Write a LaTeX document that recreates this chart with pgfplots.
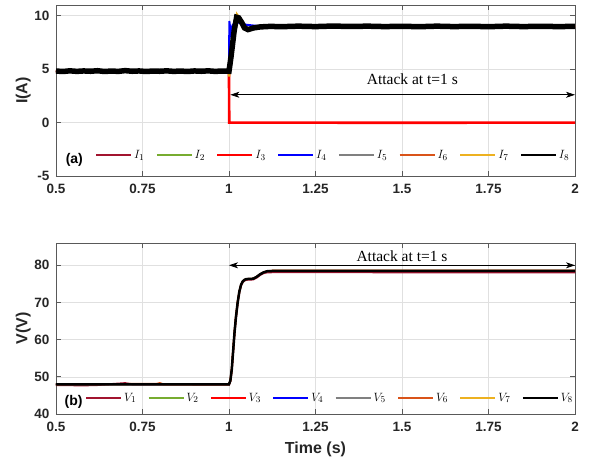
\documentclass[border=0pt]{standalone}
\usepackage{fontspec}
\setmainfont{Liberation Sans}
\newfontfamily\seriffont{Liberation Serif}
\usepackage{pgfplots}
\pgfplotsset{compat=1.18}
\usetikzlibrary{arrows.meta}
\definecolor{c1}{rgb}{0.635,0.078,0.184}
\definecolor{c2}{rgb}{0.466,0.674,0.188}
\definecolor{c3}{rgb}{1,0,0}
\definecolor{c4}{rgb}{0,0,1}
\definecolor{c5}{rgb}{0.5,0.5,0.5}
\definecolor{c6}{rgb}{0.85,0.325,0.098}
\definecolor{c7}{rgb}{0.929,0.694,0.125}
\pgfplotsset{mystyle/.style={
  width=519pt, height=171pt, scale only axis,
  xmin=0.5, xmax=2,
  xtick={0.5,0.75,1,1.25,1.5,1.75,2},
  xticklabels={0.5,0.75,1,1.25,1.5,1.75,2},
  tick align=inside, tick pos=both, major tick length=5pt,
  grid=major, grid style={color=black!12, line width=0.6pt},
  axis line style={color=black!65, line width=0.8pt},
  every tick/.style={black!65, line width=0.7pt},
  tick label style={font=\fontsize{13.5}{13.5}\selectfont\bfseries, text=black!85},
  xticklabel style={yshift=-5pt},
  yticklabel style={xshift=-3pt},
  label style={font=\fontsize{16}{16}\selectfont\bfseries, text=black!85},
  ylabel style={at={(rel axis cs:-0.063,0.5)}, anchor=center},
  legend columns=8,
  legend style={draw=none, fill=none, font=\fontsize{12.5}{12.5}\selectfont, anchor=west, inner sep=0pt},
  legend image code/.code={\draw[#1, line width=1.9pt] (0pt,0pt) -- (35pt,0pt);},
  /tikz/every even column/.append style={column sep=9.5pt},
}}
\begin{document}
\begin{tikzpicture}
\path[use as bounding box] (-56pt,5pt) rectangle (535pt,-459pt);
% ---------------- (a) currents ----------------
\begin{axis}[mystyle, at={(0pt,0pt)}, anchor=north west,
  ymin=-5, ymax=11, ytick={-5,0,5,10}, yticklabels={-5,0,5,10},
  ylabel={I(A)},
  legend style={at={(rel axis cs:0.075,0.123)}}]
\addplot[c1, line width=1.5pt] coordinates {(0.5,4.8)(1.0,4.8)(1.006,6.2)(1.015,8.6)(1.023,10.0)(1.033,9.6)(1.045,8.85)(1.055,8.7)(1.07,8.85)(1.09,8.95)(1.12,9.0)(2,8.98)};
\addlegendentry{$I_1$}
\addplot[c2, line width=1.5pt] coordinates {(0.5,4.8)(1.0,4.8)(1.006,6.2)(1.015,8.6)(1.023,10.0)(1.033,9.6)(1.045,8.85)(1.055,8.7)(1.07,8.85)(1.09,8.95)(1.12,9.0)(2,9.0)};
\addlegendentry{$I_2$}
\addplot[c3, line width=2.6pt] coordinates {(0.5,4.8)(1.0,4.8)(1.0,3.9)(1.0008,0)(1.5,-0.02)(2,0)};
\addlegendentry{$I_3$}
\addplot[c4, line width=2pt] coordinates {(0.5,4.8)(1.0,4.8)(1.001,9.5)(1.005,8.4)(1.01,9.1)(1.02,9.4)(1.035,9.3)(1.05,9.15)(1.08,9.05)(1.1,9.02)(1.5,9.02)(2,9.0)};
\addlegendentry{$I_4$}
\addplot[c5, line width=1.5pt] coordinates {(0.5,4.8)(1.0,4.8)(1.006,6.2)(1.015,8.6)(1.023,10.0)(1.033,9.6)(1.045,8.85)(1.055,8.7)(1.07,8.85)(1.09,8.95)(1.12,9.0)(2,9.0)};
\addlegendentry{$I_5$}
\addplot[c6, line width=1.5pt] coordinates {(0.5,4.8)(1.0,4.8)(1.006,6.2)(1.015,8.6)(1.023,10.05)(1.033,9.6)(1.045,8.85)(1.055,8.7)(1.07,8.85)(1.09,8.95)(1.12,9.0)(2,9.0)};
\addlegendentry{$I_6$}
\addplot[c7, line width=2.5pt] coordinates {(0.5,4.8)(1.0,4.8)(1.0,4.3)(1.006,6.2)(1.015,8.6)(1.023,10.1)(1.033,9.65)(1.045,8.85)(1.055,8.7)(1.07,8.85)(1.09,8.95)(1.12,9.0)(2,9.0)};
\addlegendentry{$I_7$}
\addplot[black, line width=5.5pt] coordinates {
(0.5,4.82)(0.52,4.78)(0.54,4.84)(0.56,4.79)(0.58,4.83)(0.60,4.80)(0.62,4.85)(0.64,4.78)(0.66,4.82)(0.68,4.79)
(0.70,4.86)(0.72,4.80)(0.74,4.83)(0.76,4.78)(0.78,4.82)(0.80,4.80)(0.82,4.84)(0.84,4.79)(0.86,4.82)(0.88,4.78)
(0.90,4.83)(0.92,4.80)(0.94,4.84)(0.96,4.79)(0.98,4.82)(1.0,4.8)
(1.006,6.2)(1.015,8.6)(1.022,9.85)(1.028,9.8)(1.036,9.4)(1.045,8.85)(1.055,8.7)(1.07,8.85)(1.09,8.95)(1.12,9.0)
(1.15,8.97)(1.2,9.02)(1.25,8.98)(1.3,9.03)(1.35,8.99)(1.4,9.02)(1.45,8.98)(1.5,9.01)(1.55,8.97)(1.6,9.02)
(1.65,8.98)(1.7,9.01)(1.75,8.97)(1.8,9.02)(1.85,8.98)(1.9,9.01)(1.95,8.98)(2,9.0)};
\addlegendentry{$I_8$}
\draw[{Stealth[length=9pt,width=6pt,inset=2.5pt]}-{Stealth[length=9pt,width=6pt,inset=2.5pt]}, line width=0.7pt]
  (axis cs:1.004,2.6) -- (axis cs:2,2.6);
\node[font=\seriffont\fontsize{15.5}{15.5}\selectfont] at (axis cs:1.53,4.05) {Attack at t=1 s};
\node[font=\fontsize{14}{14}\selectfont\bfseries, anchor=west] at (rel axis cs:0.012,0.094) {(a)};
\end{axis}
% ---------------- (b) voltages ----------------
\begin{axis}[mystyle, at={(0pt,-238pt)}, anchor=north west,
  ymin=40, ymax=86, ytick={40,50,60,70,80}, yticklabels={40,50,60,70,80},
  ylabel={V(V)}, xlabel={Time (s)},
  xlabel style={at={(rel axis cs:0.5,0)}, anchor=center, yshift=-35pt},
  legend style={at={(rel axis cs:0.056,0.095)}}]
\addplot[c1, line width=2pt] coordinates {(0.5,47.8)(0.58,47.7)(0.62,47.8)(0.7,48.3)(0.72,48.0)(1.0,47.9)(1.004,48.8)(1.008,51.8)(1.012,56.8)(1.016,61.8)(1.02,65.8)(1.025,69.8)(1.03,72.8)(1.035,74.6)(1.04,75.5)(1.045,75.9)(1.05,76.1)(1.07,76.2)(1.08,76.7)(1.09,77.4)(1.1,77.9)(1.11,78.1)(1.13,78.15)(2,78.1)};
\addlegendentry{$V_1$}
\addplot[c2, line width=1.5pt] coordinates {(0.5,48)(1.0,48)(1.004,49)(1.008,52)(1.012,57)(1.016,62)(1.02,66)(1.025,70)(1.03,73)(1.035,74.8)(1.04,75.7)(1.045,76.1)(1.05,76.3)(1.07,76.4)(1.08,76.9)(1.09,77.6)(1.1,78.1)(1.11,78.4)(1.13,78.5)(2,78.5)};
\addlegendentry{$V_2$}
\addplot[c3, line width=1.5pt] coordinates {(0.5,48)(1.0,48)(1.004,49)(1.008,52)(1.012,57)(1.016,62)(1.02,66)(1.025,70)(1.03,73)(1.035,74.8)(1.04,75.7)(1.045,76.1)(1.05,76.3)(1.07,76.4)(1.08,76.9)(1.09,77.6)(1.1,78.1)(1.11,78.4)(1.13,78.5)(2,78.5)};
\addlegendentry{$V_3$}
\addplot[c4, line width=1.5pt] coordinates {(0.5,48)(1.0,48)(1.004,49)(1.008,52)(1.012,57)(1.016,62)(1.02,66)(1.025,70)(1.03,73)(1.035,74.8)(1.04,75.7)(1.045,76.1)(1.05,76.3)(1.07,76.4)(1.08,76.9)(1.09,77.6)(1.1,78.1)(1.11,78.4)(1.13,78.5)(2,78.5)};
\addlegendentry{$V_4$}
\addplot[c5, line width=1.5pt] coordinates {(0.5,48)(1.0,48)(1.004,49)(1.008,52)(1.012,57)(1.016,62)(1.02,66)(1.025,70)(1.03,73)(1.035,74.8)(1.04,75.7)(1.045,76.1)(1.05,76.3)(1.07,76.4)(1.08,76.9)(1.09,77.6)(1.1,78.1)(1.11,78.4)(1.13,78.5)(2,78.5)};
\addlegendentry{$V_5$}
\addplot[c6, line width=2pt] coordinates {(0.5,48)(0.79,48.1)(0.8,48.3)(0.81,48.0)(1.0,48)(1.004,49)(1.008,52.2)(1.012,57.2)(1.016,62.2)(1.02,66.2)(1.025,70.2)(1.03,73)(1.035,74.8)(1.04,75.7)(1.045,76.1)(1.05,76.3)(1.07,76.4)(1.08,76.9)(1.09,77.6)(1.1,78.1)(1.11,78.4)(1.13,78.6)(2,78.6)};
\addlegendentry{$V_6$}
\addplot[c7, line width=1.5pt] coordinates {(0.5,48)(1.0,48)(1.004,49)(1.008,52)(1.012,57)(1.016,62)(1.02,66)(1.025,70)(1.03,73)(1.035,74.8)(1.04,75.7)(1.045,76.1)(1.05,76.3)(1.07,76.4)(1.08,76.9)(1.09,77.6)(1.1,78.1)(1.11,78.4)(1.13,78.6)(2,78.6)};
\addlegendentry{$V_7$}
\addplot[black, line width=2.5pt] coordinates {(0.5,48)(1.0,48)(1.004,49)(1.008,52)(1.012,57)(1.016,62)(1.02,66)(1.025,70)(1.03,73)(1.035,74.8)(1.04,75.7)(1.045,76.1)(1.05,76.3)(1.07,76.4)(1.08,76.9)(1.09,77.6)(1.1,78.1)(1.11,78.4)(1.13,78.5)(2,78.5)};
\addlegendentry{$V_8$}
\draw[{Stealth[length=9pt,width=6pt,inset=2.5pt]}-{Stealth[length=9pt,width=6pt,inset=2.5pt]}, line width=0.7pt]
  (axis cs:1.0,80) -- (axis cs:2,80);
\node[font=\seriffont\fontsize{15.5}{15.5}\selectfont] at (axis cs:1.50,82.4) {Attack at t=1 s};
\node[font=\fontsize{14}{14}\selectfont\bfseries, anchor=west] at (rel axis cs:0.01,0.072) {(b)};
\end{axis}
\end{tikzpicture}
\end{document}
